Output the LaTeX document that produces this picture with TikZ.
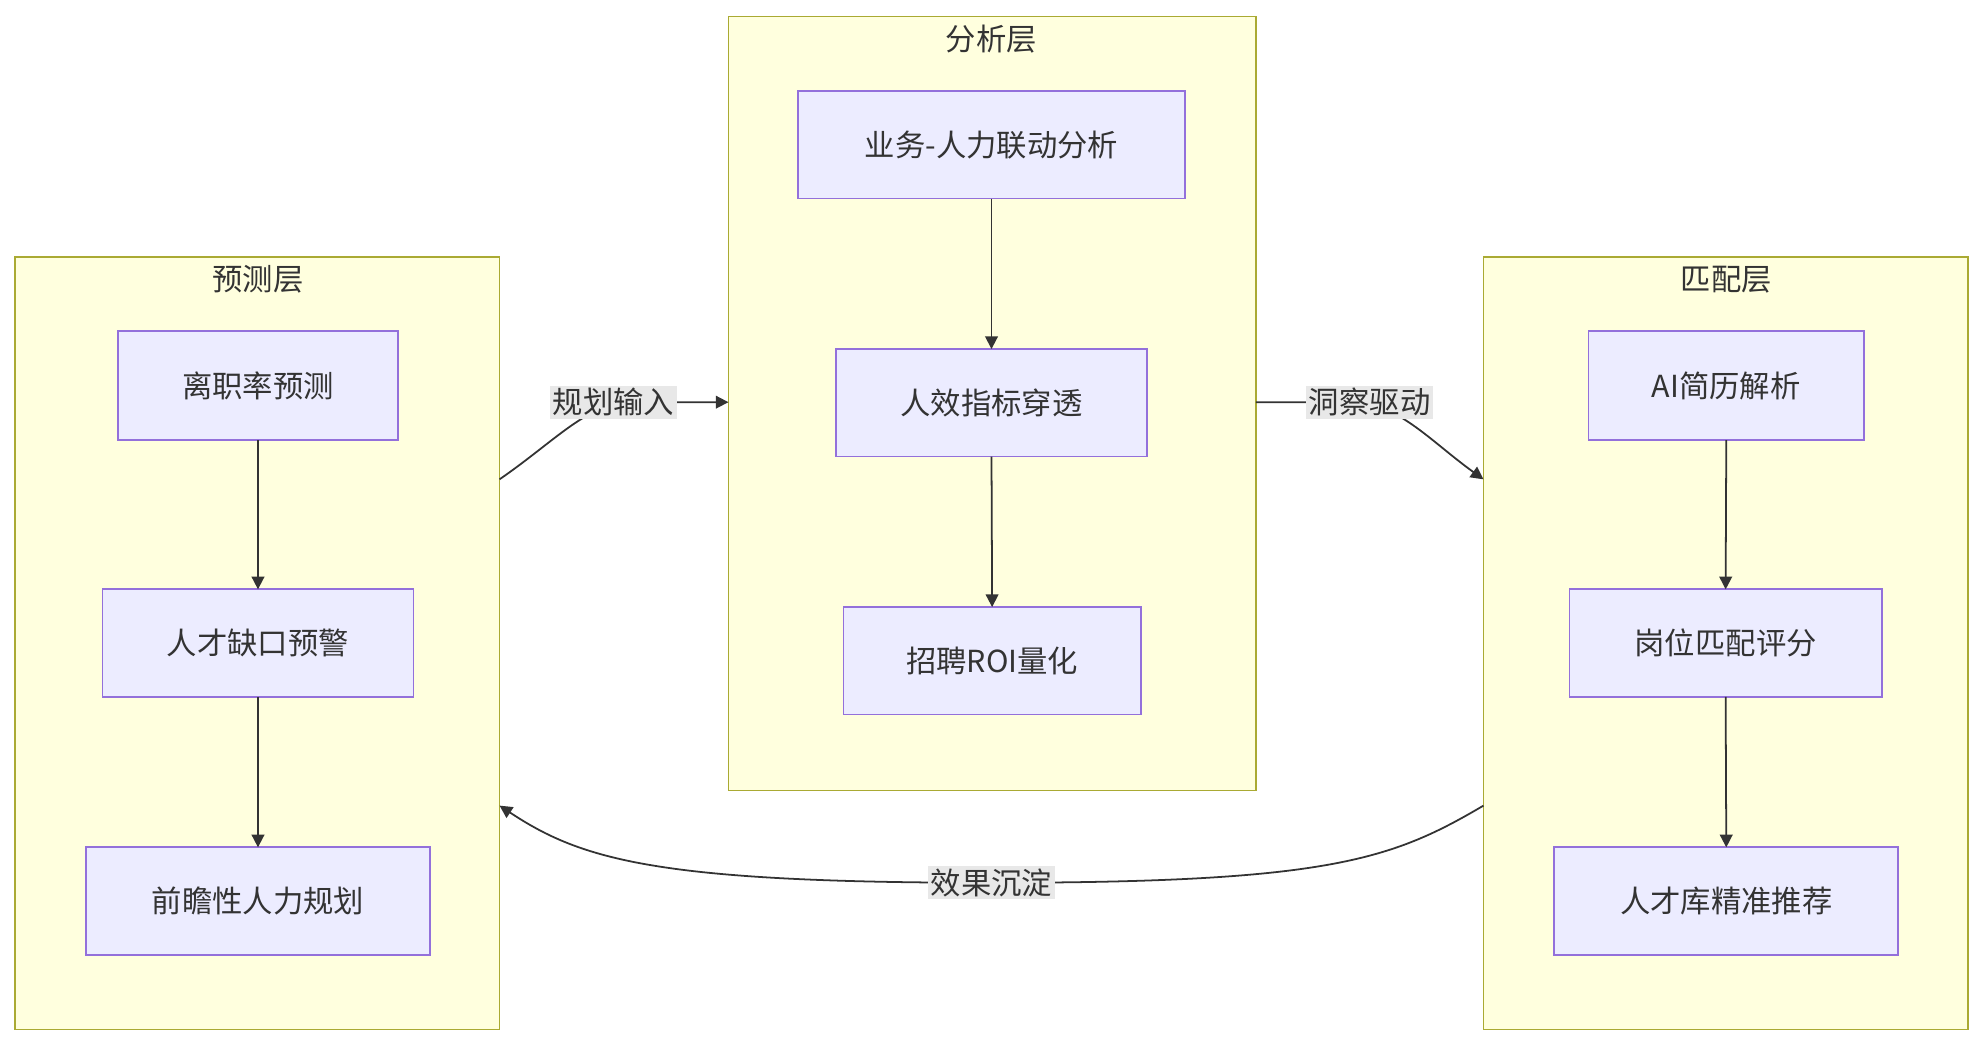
\documentclass[tikz,border=0pt]{standalone}
\usepackage{fontspec}
\setmainfont{Noto Sans CJK SC}
\usetikzlibrary{arrows.meta}
\definecolor{cfill}{HTML}{FFFFDE}\definecolor{cline}{HTML}{AAAA33}
\definecolor{nfill}{HTML}{ECECFF}\definecolor{nline}{HTML}{9370DB}
\definecolor{lbg}{HTML}{E8E8E8}\definecolor{ink}{HTML}{333333}
\begin{document}
\begin{tikzpicture}[x=0.5pt,y=-0.5pt,
  clus/.style={draw=cline,fill=cfill,line width=0.7pt},
  box/.style={draw=nline,fill=nfill,line width=0.7pt},
  txt/.style={font=\fontsize{12}{14}\selectfont,text=ink},
  lbl/.style={font=\fontsize{12}{14}\selectfont,text=ink,fill=lbg,inner sep=1pt},
  arr/.style={draw=ink,line width=0.7pt,-{Triangle[length=5pt,width=5pt]}}]
\useasboundingbox (0,0) rectangle (1568,827);
\fill[white] (0,0) rectangle (1568,827);
% clusters
\draw[clus] (12,203) rectangle (395,814);
\draw[clus] (576,13) rectangle (993,625);
\draw[clus] (1173,203) rectangle (1556,814);
\node[txt] (t1) at (204,221) {预测层};
\node[txt] (t2) at (784,31) {分析层};
\node[txt] (t3) at (1365,221) {匹配层};
% nodes
\newcommand{\bx}[6]{\draw[box] (#2,#3) rectangle (#4,#5); \node[txt] (#1) at ({(#2+#4)/2},{(#3+#5)/2}) {#6};
 \coordinate (#1n) at ({(#2+#4)/2},#3); \coordinate (#1s) at ({(#2+#4)/2},#5);}
\bx{a1}{93}{262}{315}{348}{离职率预测}
\bx{a2}{81}{466}{327}{551}{人才缺口预警}
\bx{a3}{68}{670}{340}{755}{前瞻性人力规划}
\bx{b1}{631}{72}{937}{157}{业务-人力联动分析}
\bx{b2}{661}{276}{907}{361}{人效指标穿透}
\bx{b3}{667}{480}{902}{565}{招聘ROI量化}
\bx{c1}{1256}{262}{1474}{348}{AI简历解析}
\bx{c2}{1241}{466}{1488}{551}{岗位匹配评分}
\bx{c3}{1229}{670}{1501}{755}{人才库精准推荐}
\draw[arr] (a1s) -- (a2n); \draw[arr] (a2s) -- (a3n);
\draw[arr] (b1s) -- (b2n); \draw[arr] (b2s) -- (b3n);
\draw[arr] (c1s) -- (c2n); \draw[arr] (c2s) -- (c3n);
% cluster edges
\coordinate (p1) at (395,379); \coordinate (p2) at (576,318);
\coordinate (q1) at (993,318); \coordinate (q2) at (1173,379);
\coordinate (r1) at (1173,637); \coordinate (r2) at (395,637);
\draw[arr] (p1) .. controls (440,348) and (465,318) .. (500,318) -- (p2);
\node[lbl] (l1) at (485,318) {规划输入};
\draw[arr] (q1) -- (1068,318) .. controls (1105,318) and (1130,348) .. (q2);
\node[lbl] (l2) at (1083,318) {洞察驱动};
\draw[arr] (r1) .. controls (1100,680) and (1050,698) .. (784,698) .. controls (520,698) and (460,680) .. (r2);
\node[lbl] (l3) at (784,698) {效果沉淀};
\end{tikzpicture}
\end{document}
